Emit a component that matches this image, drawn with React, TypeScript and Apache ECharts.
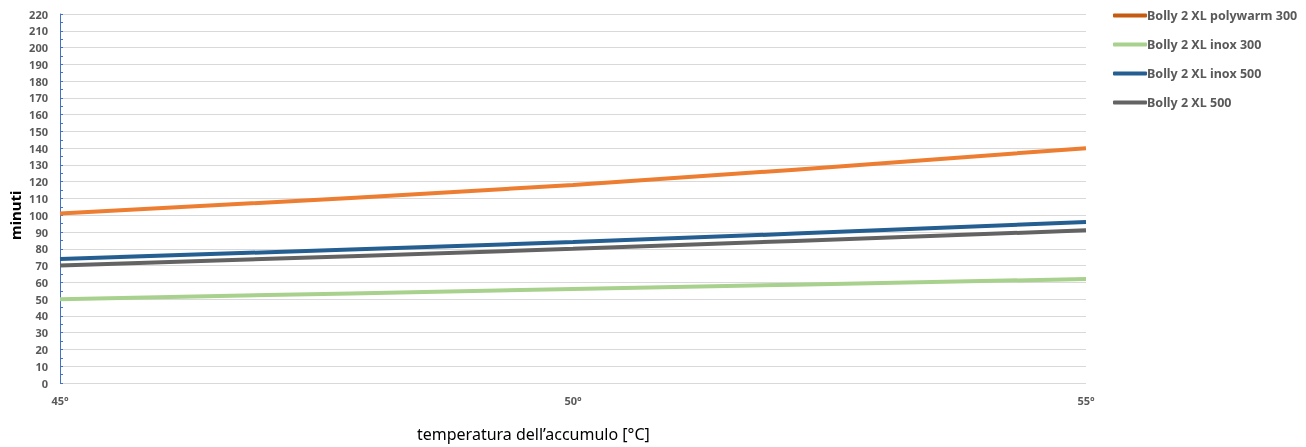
import React, { useEffect, useRef } from "react";
import * as echarts from "echarts";

const categories = ["45°", "50°", "55°"];
const seriesNames = [
  "Bolly 2 XL polywarm 300",
  "Bolly 2 XL inox 300",
  "Bolly 2 XL inox 500",
  "Bolly 2 XL 500",
];
const polywarm300 = [101, 118, 140];
const inox300 = [50, 56, 62];
const inox500 = [74, 84, 96];
const xl500 = [70, 80, 91];
const lineColors = ["#ED7D31", "#A9D18E", "#255E91", "#636363"];
const legendColors = ["#C55A11", "#A9D18E", "#255E91", "#636363"];

export default function App() {
  const ref = useRef<HTMLDivElement>(null);
  useEffect(() => {
    const chart = echarts.init(ref.current!, null, { renderer: "svg" });
    const datasets = [polywarm300, inox300, inox500, xl500];
    chart.setOption({
      animation: false,
      grid: { left: 60, right: 220, top: 14, bottom: 64 },
      legend: {
        orient: "vertical",
        left: 1108,
        top: 4,
        itemGap: 16,
        itemWidth: 34,
        itemHeight: 4,
        icon: "roundRect",
        textStyle: { fontFamily: "Noto Sans", fontWeight: "bold", fontSize: 12.5, color: "#595959", padding: [0, 0, 0, -5] },
        data: seriesNames.map((n, i) => ({ name: n, itemStyle: { color: legendColors[i] } })),
      },
      xAxis: {
        type: "category",
        data: categories,
        boundaryGap: false,
        axisLine: { show: false },
        axisTick: { show: false },
        axisLabel: { margin: 12, fontFamily: "Noto Sans", fontWeight: "bold", fontSize: 11, color: "#595959" },
        splitLine: { show: false },
      },
      yAxis: {
        type: "value",
        min: 0,
        max: 220,
        interval: 10,
        axisLine: { show: true, lineStyle: { color: "#4472C4", width: 1 } },
        axisTick: { show: true, inside: true, length: 3, lineStyle: { color: "#4472C4" } },
        minorTick: { show: true, splitNumber: 2, length: 3, lineStyle: { color: "#4472C4" } },
        axisLabel: { margin: 12, fontFamily: "Noto Sans", fontWeight: "bold", fontSize: 11, color: "#595959" },
        splitLine: { show: true, lineStyle: { color: "#D9D9D9", width: 1 } },
      },
      graphic: [
        {
          type: "text",
          left: 417,
          top: 426,
          style: { text: "temperatura dell’accumulo [°C]", font: "16px 'Noto Sans'", fill: "#000" },
        },
        {
          type: "text",
          x: 7,
          y: 240,
          rotation: Math.PI / 2,
          style: { text: "minuti", font: "bold 15px 'Noto Sans'", fill: "#000", align: "left", verticalAlign: "top" },
        },
      ],
      series: datasets.map((d, i) => ({
        name: seriesNames[i],
        type: "line",
        data: d,
        smooth: 0.3,
        symbol: "none",
        lineStyle: { color: lineColors[i], width: 4 },
        itemStyle: { color: legendColors[i] },
      })),
    });
    return () => chart.dispose();
  }, []);
  return <div ref={ref} style={{ position: "fixed", left: 0, top: 0, width: 1306, height: 447 }} />;
}
